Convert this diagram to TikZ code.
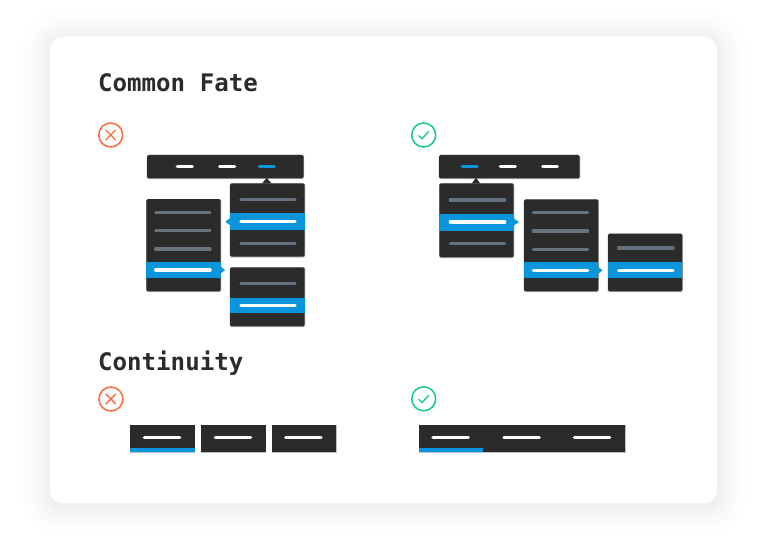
\documentclass[tikz,border=0pt]{standalone}
\usepackage{fontspec}
\setmonofont{DejaVu Sans Mono}
\usepackage{tikz}
\definecolor{panel}{HTML}{2B2B2B}
\definecolor{select}{HTML}{0A96DC}
\definecolor{muted}{HTML}{67727F}
\definecolor{wrong}{HTML}{FF6A3C}
\definecolor{right}{HTML}{17C98D}
\tikzset{
	panelbox/.style={fill=panel, rounded corners=1.5pt},
	rimbox/.style={fill=black!25, rounded corners=1.5pt},
	bandbox/.style={fill=select},
	dashline/.style={line width=3.2pt, line cap=round},
	heading/.style={anchor=base west, inner sep=0pt, text=panel, font=\ttfamily\bfseries\fontsize{24.1}{24}\selectfont},
}
% menu panel with a faint rim: left, top, right, bottom
\def\menupanel(#1,#2,#3,#4){
	\fill[rimbox] (#1-0.3, #2) rectangle (#3+0.6, #4+0.8);
	\fill[panelbox] (#1, #2) rectangle (#3, #4);
}
\def\menuline[#1](#2,#3,#4){\draw[dashline, color=#1] (#2, #3) -- (#4, #3);}
\begin{document}
\begin{tikzpicture}[x=1pt, y=-1pt]
		%%%%% START %%%%%
		\useasboundingbox (0, 0) rectangle (767, 540);
		
		\foreach \grow in {30,26,23,20,18,16,14,12,10,8.5,7,5.5,4,3,2,1}
			\fill[black, opacity=0.004, rounded corners=12+\grow] (50-\grow, 40-\grow) rectangle (717+\grow, 506+\grow);
		\fill[white, rounded corners=12pt] (50, 37) rectangle (717, 503);
		
		\node[heading] (titlefate) at (98, 92) {Common Fate};
		\node[heading] (titlecont) at (98, 370) {Continuity};
		
		% marks
		\foreach \cx/\cy in {110.7/135, 110.9/399} {
			\draw[line width=1.5pt, color=wrong] (\cx, \cy) circle (12);
			\draw[line width=1.3pt, color=wrong] (\cx-5, \cy-5) -- (\cx+5, \cy+5) (\cx-5, \cy+5) -- (\cx+5, \cy-5);
		}
		\foreach \cx/\cy in {423.7/135, 423.7/398.8} {
			\draw[line width=1.5pt, color=right] (\cx, \cy) circle (12);
			\draw[line width=1.3pt, color=right] (\cx-5, \cy+0.4) -- (\cx-1.6, \cy+3.8) -- (\cx+5, \cy-3.6);
		}
		
		% left group, top bar
		\menupanel(147, 155, 303.5, 178.3)
		\menuline[white](177.3, 166.7, 192.4)
		\menuline[white](219.6, 166.7, 234.7)
		\menuline[select](259.3, 166.7, 274.1)
		\fill[panel] (261.7, 184) -- (266.7, 177.7) -- (271.9, 184) -- cycle;
		
		% left group, upper right menu
		\menupanel(230, 183.3, 304.7, 256.7)
		\fill[bandbox] (230, 213) rectangle (304.7, 230);
		\fill[bandbox] (230, 218.2) -- (225.3, 221.7) -- (230, 225.2) -- cycle;
		\menuline[muted](240.9, 199.7, 295.1)
		\menuline[white](240.9, 221.7, 295.1)
		\menuline[muted](240.9, 243.3, 295.1)
		
		% left group, left menu
		\menupanel(146.3, 199, 220.7, 291.3)
		\fill[bandbox] (146.3, 262) rectangle (220.7, 277.7);
		\fill[bandbox] (220.7, 266.5) -- (225, 270) -- (220.7, 273.5) -- cycle;
		\menuline[muted](155.6, 212.3, 210.1)
		\menuline[muted](155.6, 230.7, 210.1)
		\menuline[muted](155.6, 249, 210.1)
		\menuline[white](155.6, 270, 210.1)
		
		% left group, lower right menu
		\menupanel(230, 267.3, 304.7, 326.3)
		\fill[bandbox] (230, 297.7) rectangle (304.7, 313);
		\menuline[muted](240.9, 283.3, 295.1)
		\menuline[white](240.9, 305.3, 295.1)
		
		% right group, top bar
		\menupanel(439, 155, 579.7, 178.3)
		\menuline[select](462.3, 166.7, 477.1)
		\menuline[white](500.3, 166.7, 515.4)
		\menuline[white](542.6, 166.7, 557.4)
		\fill[panel] (471.4, 184) -- (476, 177.7) -- (480.6, 184) -- cycle;
		
		% right group, first menu
		\menupanel(439.3, 183.3, 513.7, 257.3)
		\fill[bandbox] (439.3, 213.7) rectangle (513.7, 230.7);
		\fill[bandbox] (513.7, 218.5) -- (519, 222) -- (513.7, 225.5) -- cycle;
		\menuline[muted](450.3, 200, 504.7)
		\menuline[white](450.3, 222, 504.7)
		\menuline[muted](450.3, 243.7, 504.7)
		
		% right group, second menu
		\menupanel(524, 199.3, 598.3, 291.3)
		\fill[bandbox] (524, 262) rectangle (598.3, 278);
		\fill[bandbox] (598.3, 266.8) -- (602.5, 270.3) -- (598.3, 273.8) -- cycle;
		\menuline[muted](533.3, 212.3, 587.7)
		\menuline[muted](533.3, 231, 587.7)
		\menuline[muted](533.3, 249.3, 587.7)
		\menuline[white](533.3, 270.3, 587.7)
		
		% right group, third menu
		\menupanel(608, 233.7, 682.3, 291.3)
		\fill[bandbox] (608, 262) rectangle (682.3, 278);
		\menuline[muted](618.6, 248, 673.1)
		\menuline[white](618.6, 270.3, 673.1)
		
		% tabs, split
		\foreach \tl/\tr/\ll/\lr in {130.3/194.7/144.3/179.7, 201.3/265.7/215.3/250.7, 271.7/336/285.6/321.1} {
			\fill[black!25] (\tl, 425) rectangle (\tr+0.7, 453);
			\fill[panel] (\tl, 425) rectangle (\tr, 452.3);
			\draw[dashline, color=white] (\ll, 437.7) -- (\lr, 437.7);
		}
		\fill[bandbox] (130.3, 448.3) rectangle (194.7, 452.3);
		
		% tabs, joined
		\fill[black!25] (419, 425) rectangle (625.5, 453);
		\fill[panel] (419, 425) rectangle (625, 452.3);
		\fill[bandbox] (419, 448.2) rectangle (483, 452.3);
		\foreach \ll/\lr in {432.9/468.4, 503.9/539.4, 574.3/609.7}
			\draw[dashline, color=white] (\ll, 437.7) -- (\lr, 437.7);
		
		%%%%% END %%%%%
	\end{tikzpicture}
\end{document}
